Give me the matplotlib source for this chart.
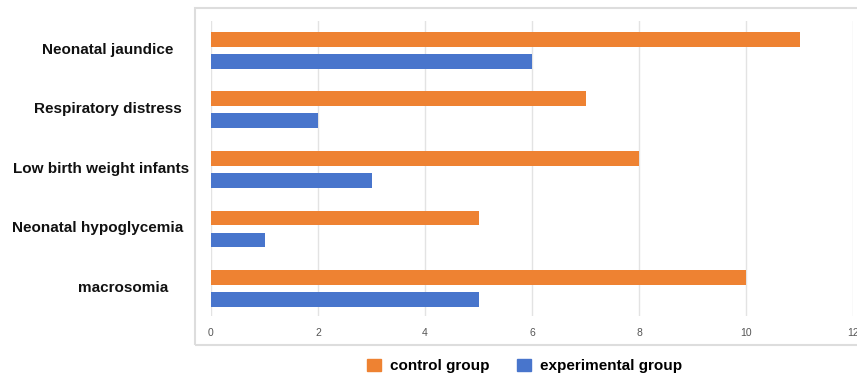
import numpy as np
import matplotlib.pyplot as plt
from matplotlib.patches import Rectangle, Patch
from matplotlib.transforms import blended_transform_factory

plt.rcParams['font.family'] = ['Liberation Sans', 'DejaVu Sans']

categories = ["Neonatal jaundice", "Respiratory distress", "Low birth weight infants",
              "Neonatal hypoglycemia", "macrosomia"]
control = [11, 7, 8, 5, 10]
experimental = [6, 2, 3, 1, 5]
xticks = [0, 2, 4, 6, 8, 10, 12]

orange = '#EE8232'
blue = '#4875CC'

fig = plt.figure(figsize=(8.57, 3.78), dpi=100)
ax = fig.add_axes([211 / 857, 1 - 316 / 378, (853 - 211) / 857, (316 - 21) / 378])

y = np.arange(len(categories))
h = 0.25
ax.barh(y - 0.185, control, height=h, color=orange, zorder=3)
ax.barh(y + 0.185, experimental, height=h, color=blue, zorder=3)

ax.set_xlim(0, 12)
ax.set_ylim(4.46, -0.49)
ax.set_xticks(xticks)
ax.set_xticklabels([str(t) for t in xticks], fontsize=7.5, color='#555555')
ax.tick_params(axis='x', length=0, pad=9)
ax.set_yticks([])
ax.grid(axis='x', color='#e3e3e3', lw=1, zorder=0)
for s in ax.spines.values():
    s.set_visible(False)

# category labels to the left of the plot area
trans = blended_transform_factory(fig.transFigure, ax.transData)
label_x = [108, 108, 101, 98, 123]
for yi, name, lx in zip(y, categories, label_x):
    ax.text(lx / 857, yi - 0.01, name, transform=trans,
            ha='center', va='center', fontsize=11, fontweight='bold', color='#111111')

# light frame around the chart area
fig.patches.append(Rectangle((195 / 857, 1 - 345 / 378), 0.9, (345 - 8) / 378,
                             transform=fig.transFigure, fill=False,
                             edgecolor='#dddddd', lw=1.5))

handles = [Patch(color=orange, label='control group'),
           Patch(color=blue, label='experimental group')]
fig.legend(handles=handles, loc='center', bbox_to_anchor=(0.612, 0.032), ncol=2,
           frameon=False, handlelength=0.9, handleheight=0.9, handletextpad=0.6,
           columnspacing=1.8, prop={'weight': 'bold', 'size': 11})

fig.savefig('out.png', dpi=100)
